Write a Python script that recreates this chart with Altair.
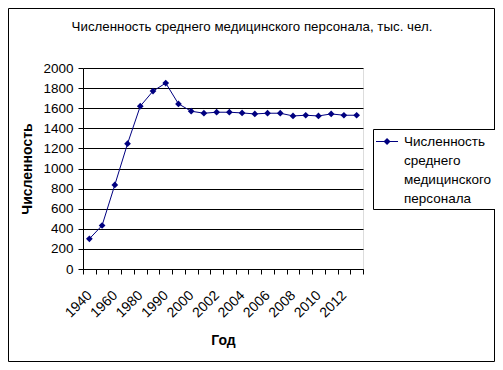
import altair as alt
import pandas as pd

# ---- data ----
years = ["1940", "1950", "1960", "1970", "1980", "1985", "1990", "1995",
         "2000", "2001", "2002", "2003", "2004", "2005", "2006", "2007",
         "2008", "2009", "2010", "2011", "2012", "2013"]
staff = [300, 433, 837, 1247, 1620, 1770, 1850, 1643,
         1570, 1550, 1560, 1560, 1553, 1543, 1550, 1550,
         1523, 1530, 1523, 1543, 1530, 1530]
shown_labels = ["1940", "1960", "1980", "1990", "2000", "2002", "2004",
                "2006", "2008", "2010", "2012"]
y_ticks = [0, 200, 400, 600, 800, 1000, 1200, 1400, 1600, 1800, 2000]
series_name = "Численность среднего медицинского персонала"
chart_title = "Численность среднего медицинского персонала, тыс. чел."
x_title = "Год"
y_title = "Численность"

df = pd.DataFrame({"year": years, "value": staff, "series": series_name})

FONT = "Liberation Sans"
NAVY = "#000080"
W, H = 280, 201
PAD = {"left": 75, "top": 60, "right": 132, "bottom": 93}

label_expr = ("indexof([" + ",".join("'%s'" % y for y in shown_labels)
              + "], datum.label) >= 0 ? datum.label : ''")

x_enc = alt.X(
    "year:O", sort=years,
    scale=alt.Scale(type="band", paddingInner=0, paddingOuter=0),
    axis=alt.Axis(
        title=x_title, titleFont=FONT, titleFontSize=14, titleFontWeight="bold",
        titleColor="black", titleY=71, titleBaseline="middle",
        labelExpr=label_expr, labelAngle=-45, labelAlign="right",
        labelBaseline="middle", labelPadding=19, labelFont=FONT,
        labelFontSize=14, labelColor="black", labelOverlap=False,
        tickBand="extent", tickSize=5, tickColor="black", domainColor="black",
        grid=False,
    ),
)
y_enc = alt.Y(
    "value:Q",
    scale=alt.Scale(domain=[0, 2000], nice=False),
    axis=alt.Axis(
        values=y_ticks, format="d", title=y_title, titleFont=FONT,
        titleFontSize=14, titleFontWeight="bold", titleColor="black",
        titleAngle=-90, titleX=-56, titleY=100.5, titleBaseline="middle",
        titleAlign="center",
        labelFont=FONT, labelFontSize=13.5, labelColor="black", labelPadding=5,
        tickSize=5, tickColor="black", domainColor="black",
        grid=True, gridColor="black", gridOpacity=1, gridWidth=1,
    ),
)

base = alt.Chart(df).encode(x=x_enc, y=y_enc)

line = base.mark_line(color=NAVY, strokeWidth=1)

# legend glyph (line with a diamond), in units of the symbol radius
legend_symbol = ("M-1,-0.36H0.571V-0.29H-1Z"
                 "M-0.214,-0.57L0.036,-0.32L-0.214,-0.07L-0.464,-0.32Z")

points = base.mark_point(shape="diamond", filled=True, size=45, opacity=1).encode(
    color=alt.Color(
        "series:N",
        scale=alt.Scale(range=[NAVY]),
        legend=alt.Legend(
            title=None, orient="none", legendX=290, legendY=61,
            labelExpr="split(datum.label, ' ')", labelFont=FONT,
            labelFontSize=13.5, labelColor="black", labelLimit=0,
            labelOffset=0, labelBaseline="alphabetic",
            symbolType=legend_symbol, symbolSize=784, symbolStrokeWidth=0,
            symbolOpacity=1,
            strokeColor="black", fillColor="white", padding=3,
            cornerRadius=0,
        ),
    )
)

border = alt.Chart(alt.Data(values=[{}])).mark_rect(
    fill="transparent", stroke="black", strokeWidth=1
).encode(
    x=alt.value(-74.5), x2=alt.value(W + PAD["right"] - 0.5),
    y=alt.value(-59.5), y2=alt.value(H + PAD["bottom"] - 0.5),
)

chart = alt.layer(line, points, border).properties(
    width=W, height=H,
    padding=PAD,
    autosize=alt.AutoSizeParams(type="none"),
    title=alt.Title(
        chart_title, font=FONT, fontSize=13.3, fontWeight="normal",
        color="black", anchor="middle", frame="group", dx=29, offset=0,
        baseline="middle", dy=32,
    ),
).configure_view(
    fill="#C0C0C0", stroke="#808080", strokeWidth=1
).configure(
    background="white", style={"guide-label": {"lineHeight": 19}}
)

chart.save("out.html", embed_options={"renderer": "svg", "actions": False})
